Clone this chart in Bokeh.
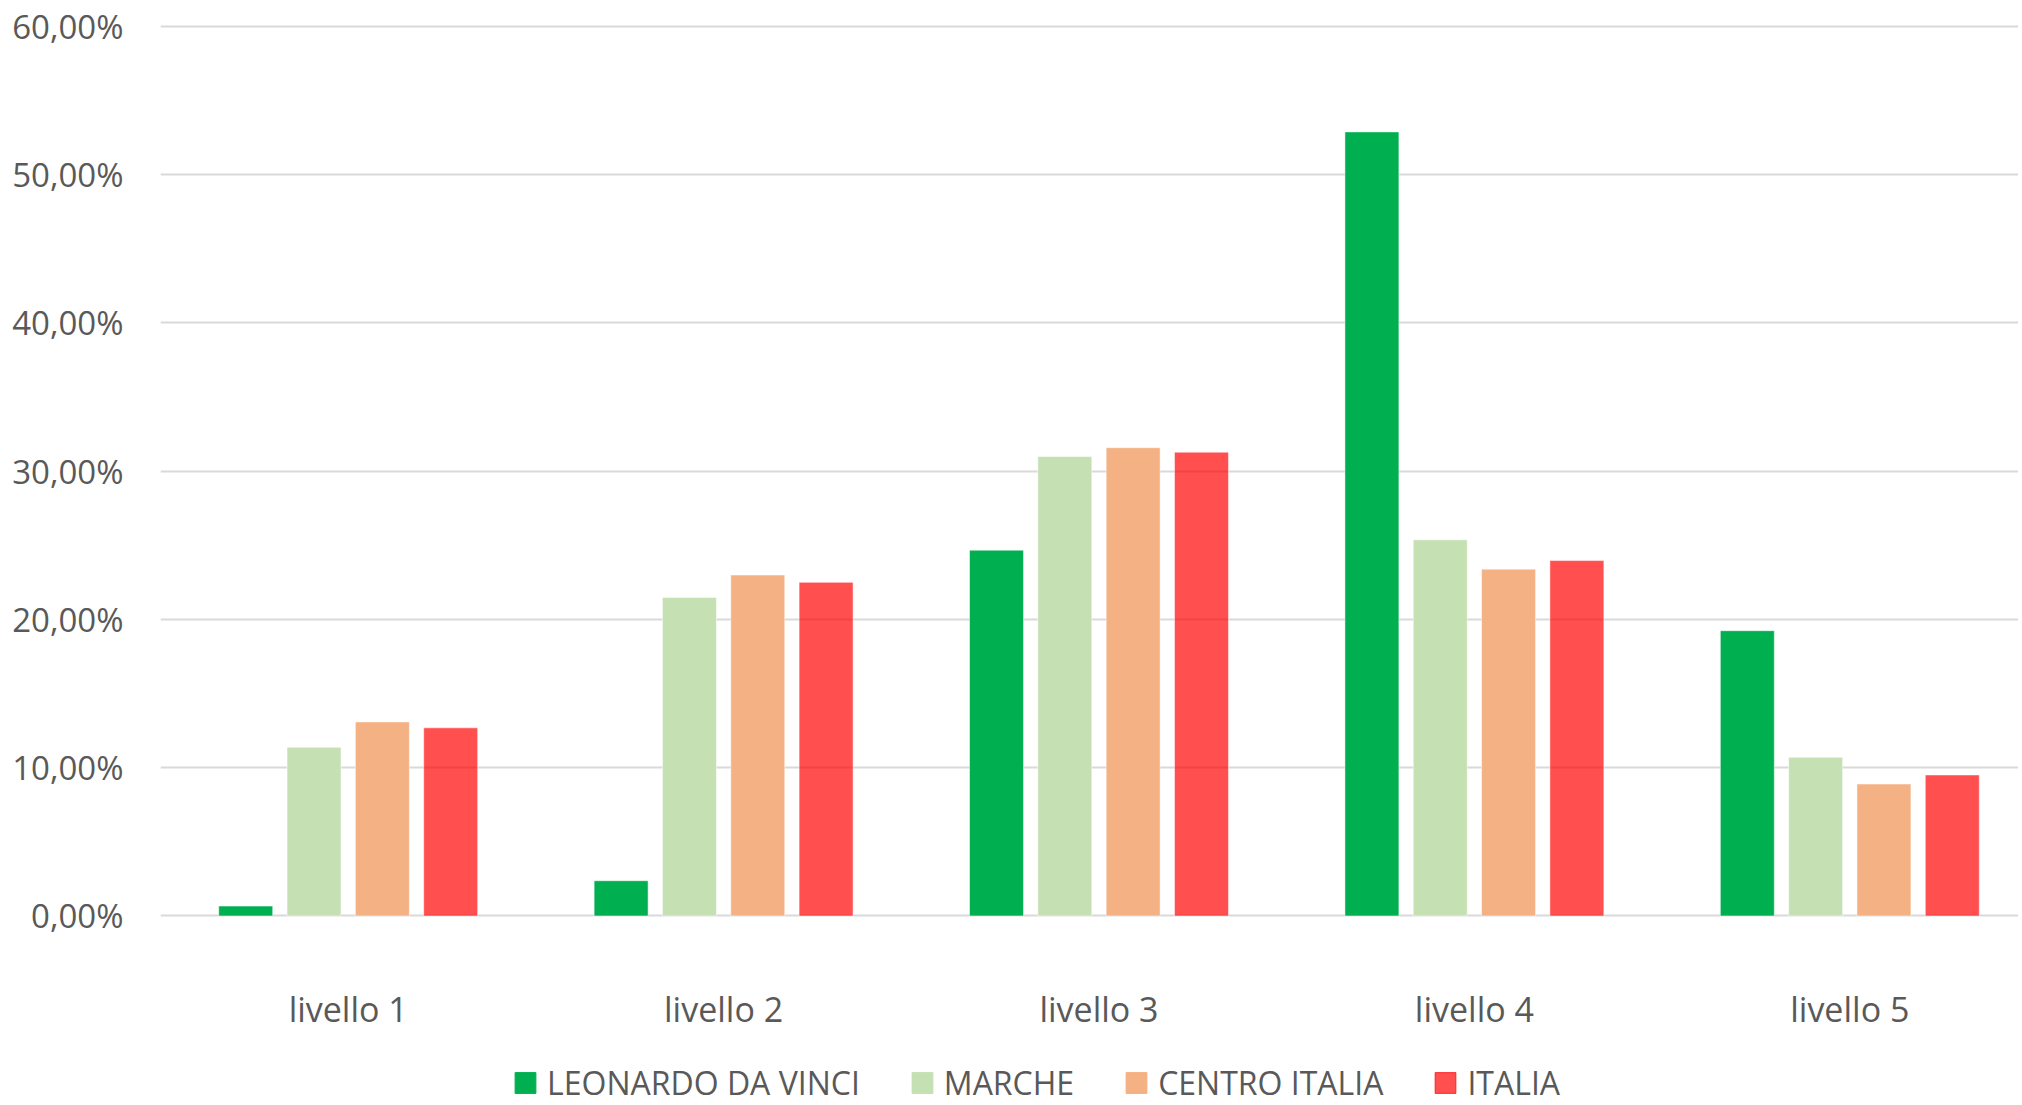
from bokeh.plotting import figure
from bokeh.layouts import column
from bokeh.models import (Range1d, FixedTicker, CustomJSTickFormatter, Legend,
                          LegendItem, ColumnDataSource)
from bokeh.embed import file_html
from bokeh.resources import INLINE

# ---------------- data ----------------
categories = ["livello 1", "livello 2", "livello 3", "livello 4", "livello 5"]
series_names = ["LEONARDO DA VINCI", "MARCHE", "CENTRO ITALIA", "ITALIA"]
leonardo = [0.0067, 0.0238, 0.2467, 0.5288, 0.1924]
marche = [0.1138, 0.2148, 0.3099, 0.2537, 0.1070]
centro_italia = [0.1309, 0.2299, 0.3158, 0.2339, 0.0890]
italia = [0.1269, 0.2250, 0.3128, 0.2397, 0.0951]
y_ticks = [0.0, 0.1, 0.2, 0.3, 0.4, 0.5, 0.6]
y_tick_labels = ["0,00%", "10,00%", "20,00%", "30,00%", "40,00%", "50,00%", "60,00%"]

series_values = [leonardo, marche, centro_italia, italia]
colors = ["#00B050", "#C5E0B3", "#F4B183", "#FF0000"]
alphas = [1.0, 1.0, 1.0, 0.69]

# ---------------- layout ----------------
W = 2018
H1, H2 = 1060, 44          # chart height, legend strip height
frame_left = 160
frame_top = 18
frame_h = 906
cat_px = 375.4
px_per_unit = 1482.8
zero_y = 915.5      # canvas y of 0
top_tick_y = 25.8   # canvas y of 0.6

x_end = (W - frame_left) / cat_px
y_end = 0.6 + (top_tick_y - frame_top) / px_per_unit
y_start = -((frame_top + frame_h) - zero_y) / px_per_unit

FONT = "Open Sans"
TXT = "#595959"
GRID = "#D9D9D9"

p = figure(width=W, height=H1, output_backend="svg", toolbar_location=None,
           x_range=Range1d(0, x_end), y_range=Range1d(y_start, y_end),
           min_border_left=frame_left, min_border_right=0,
           min_border_top=frame_top, min_border_bottom=H1 - frame_top - frame_h)
p.outline_line_color = None
p.background_fill_color = "white"
p.border_fill_color = "white"

pitch = 0.182
bar_w = 0.1438
sources = []
for k, (name, vals, col, a) in enumerate(zip(series_names, series_values, colors, alphas)):
    xs = [i + 0.5 + (k - 1.5) * pitch for i in range(len(categories))]
    src = ColumnDataSource(dict(x=xs, top=vals))
    sources.append(src)
    p.vbar(x="x", top="top", bottom=0, width=bar_w, source=src,
           fill_color=col, fill_alpha=a, line_color="white", line_alpha=0.5,
           line_width=1)

# y axis
p.yaxis.ticker = FixedTicker(ticks=y_ticks)
p.yaxis.formatter = CustomJSTickFormatter(args=dict(tvals=y_ticks, labs=y_tick_labels), code="""
    for (let j = 0; j < tvals.length; j++) { if (Math.abs(tvals[j] - tick) < 1e-9) return labs[j]; }
    return "";
""")
p.yaxis.axis_line_color = None
p.yaxis.major_tick_line_color = None
p.yaxis.minor_tick_line_color = None
p.yaxis.major_tick_out = 0
p.yaxis.major_tick_in = 0
p.yaxis.major_label_standoff = 37
p.yaxis.major_label_text_font = FONT
p.yaxis.major_label_text_font_size = "33px"
p.yaxis.major_label_text_color = TXT

# x axis
p.xaxis.ticker = FixedTicker(ticks=[i + 0.5 for i in range(len(categories))])
p.xaxis.formatter = CustomJSTickFormatter(args=dict(cats=categories), code="""
    return cats[Math.round(tick - 0.5)];
""")
p.xaxis.axis_line_color = None
p.xaxis.major_tick_line_color = None
p.xaxis.minor_tick_line_color = None
p.xaxis.major_tick_out = 0
p.xaxis.major_tick_in = 0
p.xaxis.major_label_standoff = 61
p.xaxis.major_label_text_font = FONT
p.xaxis.major_label_text_font_size = "34px"
p.xaxis.major_label_text_color = TXT

p.xgrid.grid_line_color = None
p.ygrid.ticker = FixedTicker(ticks=y_ticks)
p.ygrid.grid_line_color = GRID
p.ygrid.grid_line_width = 2

# ---------------- legend strip ----------------
# same series drawn into a strip whose y view (10..11) lies above all values,
# so only the legend shows there
lg = figure(width=W, height=H2, output_backend="svg", toolbar_location=None,
            x_range=Range1d(0, x_end), y_range=Range1d(10, 11),
            min_border_left=0, min_border_right=0, min_border_top=0, min_border_bottom=0)
lg.axis.visible = False
lg.grid.visible = False
lg.outline_line_color = None
lg.background_fill_color = "white"
lg.border_fill_color = "white"

items = []
for name, src, col, a in zip(series_names, sources, colors, alphas):
    r = lg.vbar(x="x", top="top", bottom=0, width=bar_w, source=src,
                fill_color=col, fill_alpha=a, line_color=col, line_alpha=a,
                line_width=1)
    items.append(LegendItem(label=name, renderers=[r]))

legend = Legend(items=items, orientation="horizontal", location="left",
                glyph_width=26, glyph_height=26, label_standoff=9, spacing=49,
                padding=0, margin=352, border_line_alpha=0, background_fill_alpha=0,
                label_text_font=FONT, label_text_font_size="32px",
                label_text_color=TXT)
lg.add_layout(legend)

layout = column(p, lg, spacing=0)
open("out.html", "w").write(file_html(layout, INLINE))
